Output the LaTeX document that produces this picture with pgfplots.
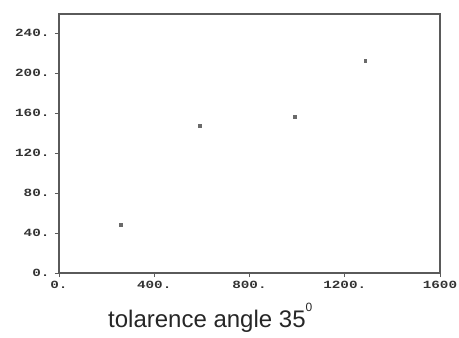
\documentclass[border=0pt]{standalone}
\usepackage{pgfplots}
\pgfplotsset{compat=1.18}
\usepackage{fontspec}
\setmainfont{Liberation Sans}
\newfontfamily\tickfont[FakeStretch=1.3]{Liberation Mono Bold}
\definecolor{axcol}{HTML}{5A5A5A}
\definecolor{markcol}{HTML}{6A6A6A}
\begin{document}
\begin{tikzpicture}
\useasboundingbox (-59pt,-65pt) rectangle (400pt,273pt);
\begin{axis}[
  at={(0pt,0pt)}, anchor=south west,
  scale only axis, width=381pt, height=259pt,
  xmin=0, xmax=1600, ymin=0, ymax=259,
  xtick={0,400,800,1200,1600},
  xticklabels={0.,400.,800.,1200.,1600},
  ytick={0,40,80,120,160,200,240},
  yticklabels={0.,40.,80.,120.,160.,200.,240.},
  xtick pos=left, ytick pos=left,
  tick align=outside, major tick length=4pt,
  tick style={axcol, line width=0.9pt},
  axis line style={axcol, line width=1.1pt},
  ticklabel style={font=\tickfont\fontsize{11}{11}\selectfont, text=black!80},
  xticklabel style={yshift=-1pt},
  yticklabel style={xshift=-2pt},
]
\addplot[only marks, mark=square*, mark size=1.4pt, markcol] coordinates {
  (260,48) (592,147) (991,156) (1286,212)
};
\end{axis}
\node[anchor=base west, inner sep=0pt, text=black!85] at (49pt,-54pt)
  {\fontsize{24}{24}\selectfont tolarence angle 35\raisebox{16pt}{\fontsize{12}{12}\selectfont 0}};
\end{tikzpicture}
\end{document}
